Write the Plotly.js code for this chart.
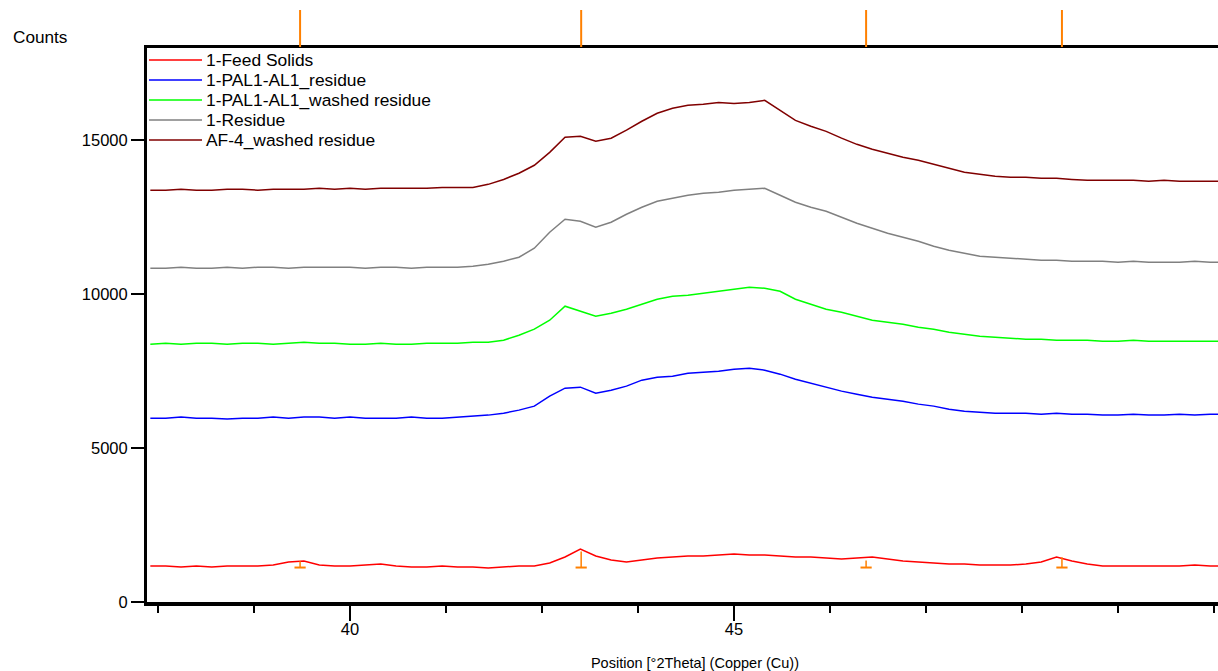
<!DOCTYPE html>
<html>
<head>
<meta charset="utf-8">
<script src="https://cdn.plot.ly/plotly-3.0.1.min.js"></script>
<style>
html, body { margin:0; padding:0; overflow:hidden; background:#fff; }
#chart { width:1243px; height:671px; }
</style>
</head>
<body>
<div id="chart"></div>
<script>
// ---- data ----
const seriesNames = ["1-Feed Solids", "1-PAL1-AL1_residue", "1-PAL1-AL1_washed residue", "1-Residue", "AF-4_washed residue"];
const seriesColors = ["#FF0000", "#0000FF", "#00FF00", "#808080", "#800000"];

const twoTheta = [
  37.4, 37.6, 37.8, 38.0, 38.2, 38.4, 38.6, 38.8, 39.0, 39.2,
  39.4, 39.6, 39.8, 40.0, 40.2, 40.4, 40.6, 40.8, 41.0, 41.2,
  41.4, 41.6, 41.8, 42.0, 42.2, 42.4, 42.6, 42.8, 43.0, 43.2,
  43.4, 43.6, 43.8, 44.0, 44.2, 44.4, 44.6, 44.8, 45.0, 45.2,
  45.4, 45.6, 45.8, 46.0, 46.2, 46.4, 46.6, 46.8, 47.0, 47.2,
  47.4, 47.6, 47.8, 48.0, 48.2, 48.4, 48.6, 48.8, 49.0, 49.2,
  49.4, 49.6, 49.8, 50.0, 50.2, 50.4, 50.6, 50.8, 51.0, 51.2,
  51.4, 51.6
];

const feedSolids = [
  1169,1169,1136,1169,1136,1169,1169,1169,1201,1299,
  1331,1201,1169,1169,1201,1234,1169,1136,1136,1169,
  1136,1136,1104,1136,1169,1169,1266,1461,1721,1494,
  1364,1299,1364,1429,1461,1494,1494,1526,1558,1526,
  1526,1494,1461,1461,1429,1396,1429,1461,1396,1331,
  1299,1266,1234,1234,1201,1201,1201,1234,1299,1461,
  1331,1234,1169,1169,1169,1169,1169,1169,1201,1169,
  1169,1169
];

const pal1Residue = [
  5974,5974,6007,5974,5974,5942,5974,5974,6007,5974,
  6007,6007,5974,6007,5974,5974,5974,6007,5974,5974,
  6007,6039,6072,6136,6234,6364,6688,6948,6981,6786,
  6883,7013,7208,7305,7338,7435,7468,7500,7565,7598,
  7533,7403,7240,7110,6981,6851,6753,6656,6591,6526,
  6429,6364,6266,6201,6169,6136,6136,6136,6104,6136,
  6104,6104,6072,6072,6104,6072,6072,6104,6072,6104,
  6104,6104
];

const pal1Washed = [
  8377,8409,8377,8409,8409,8377,8409,8409,8377,8409,
  8442,8409,8409,8377,8377,8409,8377,8377,8409,8409,
  8409,8442,8442,8507,8669,8864,9156,9611,9448,9286,
  9383,9513,9675,9838,9935,9968,10033,10098,10162,10227,
  10195,10098,9838,9675,9513,9416,9286,9156,9091,9026,
  8929,8864,8766,8701,8636,8604,8572,8539,8539,8507,
  8507,8507,8474,8474,8507,8474,8474,8474,8474,8474,
  8474,8474
];

const residue1 = [
  10844,10844,10877,10844,10844,10877,10844,10877,10877,10844,
  10877,10877,10877,10877,10844,10877,10877,10844,10877,10877,
  10877,10909,10974,11072,11201,11494,12013,12435,12370,12176,
  12338,12598,12825,13020,13117,13214,13279,13312,13377,13409,
  13442,13214,12987,12825,12695,12500,12305,12143,11981,11851,
  11721,11559,11429,11331,11234,11201,11169,11137,11104,11104,
  11072,11072,11072,11039,11072,11039,11039,11039,11072,11039,
  11039,11039
];

const af4Washed = [
  13380,13380,13410,13380,13380,13410,13410,13380,13410,13410,
  13410,13440,13410,13440,13410,13440,13440,13440,13440,13470,
  13470,13470,13570,13730,13930,14190,14610,15100,15130,14970,
  15070,15330,15620,15880,16040,16140,16170,16230,16200,16230,
  16300,15970,15650,15460,15290,15070,14870,14710,14580,14450,
  14350,14220,14090,13960,13900,13830,13800,13800,13770,13770,
  13730,13700,13700,13700,13700,13670,13700,13670,13670,13670,
  13670,13670
];

// reference pattern peak positions and stick heights (counts)
const refPos = [39.35, 43.01, 46.72, 49.27];
const refBase = [1120, 1120, 1120, 1120];
const refHeight = [200, 520, 230, 330];

const xTickVals = [40, 45];
const xTickText = ["40", "45"];
const yTickVals = [0, 5000, 10000, 15000];
const yTickText = ["0", "5000", "10000", "15000"];

// ---- geometry helpers (pixel -> paper) ----
const L = 147, T = 48, W = 1243, H = 671, B = 69;
const PW = W - L, PH = H - T - B;
const px = v => (v - L) / PW;
const py = v => (H - B - v) / PH;

const allSeries = [feedSolids, pal1Residue, pal1Washed, residue1, af4Washed];
const traces = allSeries.map((ys, i) => ({
  type: 'scatter', mode: 'lines', x: twoTheta, y: ys, name: seriesNames[i],
  line: {color: seriesColors[i], width: 1.5}, hoverinfo: 'skip'
}));

traces.push({
  type: 'scatter', mode: 'markers', x: refPos, y: refBase, name: 'ref',
  marker: {symbol: 'line-ew', size: 8, line: {color: '#FF8000', width: 2}},
  error_y: {type: 'data', symmetric: false, array: refHeight, arrayminus: refHeight.map(() => 0),
            width: 0, thickness: 1.5, color: '#FF8000'},
  hoverinfo: 'skip', cliponaxis: false
});

const shapes = refPos.map(x => ({
  type: 'line', xref: 'x', yref: 'paper', x0: x, x1: x, y0: py(47), y1: py(10),
  line: {color: '#FF8000', width: 2}
}));
const annotations = [{
  xref: 'paper', yref: 'paper', x: px(11), y: py(37), xanchor: 'left', yanchor: 'middle',
  text: 'Counts', showarrow: false, font: {size: 17.2}
}];
seriesNames.forEach((n, i) => {
  const yy = 60 + 20 * i;
  shapes.push({type: 'line', xref: 'paper', yref: 'paper', x0: px(149), x1: px(202), y0: py(yy), y1: py(yy),
               line: {color: seriesColors[i], width: 1.5}});
  annotations.push({xref: 'paper', yref: 'paper', x: px(204), y: py(yy), xanchor: 'left', yanchor: 'middle',
                    text: n, showarrow: false, font: {size: 17.4}});
});

const layout = {
  width: W, height: H,
  margin: {l: L, r: 0, t: T, b: B, pad: 0},
  paper_bgcolor: '#fff', plot_bgcolor: '#fff',
  font: {family: '"Liberation Sans", Arial, sans-serif', size: 16.5, color: '#000'},
  showlegend: false,
  xaxis: {
    range: [40 - (350 - L) / 76.8, 40 + (W - 350) / 76.8],
    tickmode: 'array', tickvals: xTickVals, ticktext: xTickText,
    ticks: 'outside', ticklen: 15, tickwidth: 2, tickcolor: '#000',
    ticklabelstandoff: -5,
    showline: true, linewidth: 3.5, linecolor: '#000', mirror: true,
    showgrid: false, zeroline: false, automargin: false,
    minor: {tickmode: 'linear', tick0: 37.5, dtick: 1.25, ticks: 'outside', ticklen: 7, tickwidth: 1.5, tickcolor: '#000', showgrid: false},
    title: {text: 'Position [°2Theta] (Copper (Cu))', font: {size: 14.5}, standoff: 21}
  },
  yaxis: {
    range: [0, 18000],
    tickmode: 'array', tickvals: yTickVals, ticktext: yTickText,
    ticks: 'outside', ticklen: 13, tickwidth: 2, tickcolor: '#000',
    showline: true, linewidth: 3, linecolor: '#000', mirror: false,
    showgrid: false, zeroline: false, automargin: false
  },
  shapes: shapes,
  annotations: annotations
};

Plotly.newPlot('chart', traces, layout, {displayModeBar: false, staticPlot: true});
</script>
</body>
</html>
